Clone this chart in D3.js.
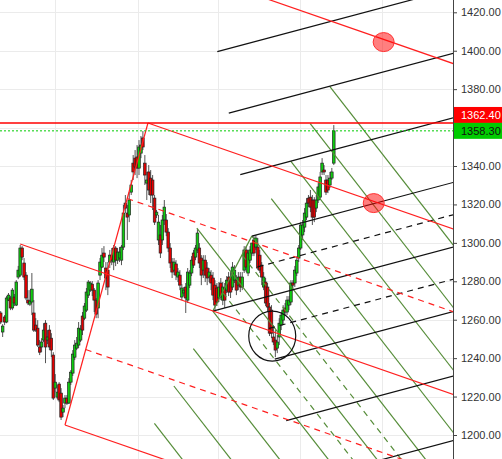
<!DOCTYPE html>
<html>
<head>
<meta charset="utf-8">
<script src="https://cdnjs.cloudflare.com/ajax/libs/d3/7.8.5/d3.min.js"></script>
<style>
  body { margin: 0; background: #fff; }
  svg { display: block; font-family: "Liberation Sans", Arial, Helvetica, sans-serif; }
</style>
</head>
<body>
<div id="chart"></div>
<script>
//Candles (one per bar, index = position)
var opens = [1263.5,1253.6,1261.4,1258.8,1270.2,1271.3,1266.1,1271.8,1267.6,1282.2,1283.2,1297.3,1289.5,1283.2,1270.2,1268.1,1269.2,1263.5,1257.2,1255.6,
  1245.8,1245.8,1249.4,1258.2,1249.4,1254.6,1250.4,1241.6,1224.4,1219.7,1226.5,1221.8,1211.9,1216.6,1219.2,1216.6,1227.5,1232.2,1240.5,1245.2,
  1246.8,1249.4,1261.9,1260.8,1265.0,1272.8,1275.4,1278.5,1275.4,1270.2,1266.1,1283.2,1287.4,1294.7,1286.9,1285.8,1290.0,1293.6,1290.0,1297.3,
  1291.0,1292.1,1291.0,1297.8,1320.7,1315.5,1314.5,1326.4,1341.5,1344.1,1344.7,1338.9,1346.7,1354.6,1341.5,1331.1,1336.9,1333.7,1332.7,1323.3,
  1314.5,1301.5,1304.1,1301.5,1311.9,1311.9,1305.6,1297.3,1290.0,1285.8,1289.0,1282.2,1283.2,1271.8,1273.9,1277.0,1270.2,1278.0,1284.3,1294.7,
  1292.6,1296.3,1297.3,1292.1,1285.8,1291.0,1286.9,1282.2,1283.2,1281.7,1278.0,1276.5,1271.3,1279.1,1270.2,1276.5,1275.4,1282.2,1282.2,1277.0,
  1280.6,1280.6,1278.0,1282.2,1277.0,1285.8,1296.3,1284.3,1291.0,1294.7,1301.5,1297.8,1297.8,1293.6,1288.4,1277.0,1279.6,1277.0,1266.6,1265.0,
  1251.0,1249.4,1245.2,1251.0,1257.2,1259.8,1266.1,1264.0,1267.6,1269.2,1279.1,1279.1,1284.3,1292.1,1297.3,1304.1,1308.2,1313.4,1323.3,1323.8,
  1322.3,1322.3,1318.1,1322.3,1323.8,1336.9,1337.9,1332.7,1332.7,1330.1,1333.7,1341.5];
var highs = [1264.5,1257.7,1262.4,1272.3,1273.9,1272.3,1276.5,1273.4,1280.6,1288.0,1298.9,1298.3,1292.1,1284.8,1275.4,1275.4,1284.3,1270.2,1260.8,1259.8,
  1249.4,1250.4,1258.2,1259.8,1254.6,1257.2,1253.0,1243.1,1231.7,1226.0,1227.5,1224.4,1215.6,1220.8,1220.8,1229.6,1233.8,1244.2,1249.4,1251.0,
  1258.8,1257.2,1264.0,1268.7,1276.5,1280.6,1280.1,1280.1,1276.5,1271.3,1280.6,1292.1,1297.3,1298.3,1290.0,1290.0,1296.3,1297.3,1298.9,1298.3,
  1297.3,1297.8,1298.9,1319.7,1324.9,1319.7,1326.4,1332.7,1345.7,1348.3,1350.9,1353.5,1355.6,1358.2,1345.7,1336.9,1340.5,1337.9,1335.3,1324.9,
  1317.1,1314.5,1309.3,1314.5,1322.3,1315.0,1307.7,1299.9,1292.1,1292.1,1291.0,1286.9,1285.8,1278.5,1277.0,1279.1,1286.9,1285.8,1293.1,1296.3,
  1298.9,1307.2,1299.9,1293.6,1293.6,1293.6,1290.0,1286.9,1285.8,1284.8,1280.6,1279.1,1279.6,1281.7,1279.6,1279.1,1282.7,1284.8,1284.8,1290.0,
  1288.4,1283.2,1284.8,1284.8,1284.8,1298.3,1298.3,1296.3,1298.3,1300.0,1303.5,1304.1,1302.5,1296.3,1290.0,1284.8,1281.7,1279.1,1268.7,1267.6,
  1257.2,1254.6,1252.0,1260.8,1264.0,1267.6,1268.7,1272.3,1272.3,1280.6,1280.6,1288.0,1293.1,1298.9,1310.8,1311.9,1318.1,1323.3,1324.9,1327.5,
  1324.9,1323.8,1324.9,1331.1,1336.9,1344.1,1340.5,1335.3,1335.3,1336.9,1339.0,1361.3];
var lows = [1257.7,1251.0,1257.2,1258.2,1269.7,1265.0,1265.0,1267.1,1267.1,1281.1,1282.2,1291.0,1280.6,1270.2,1267.6,1267.1,1262.4,1253.6,1253.6,1245.8,
  1241.6,1243.1,1248.4,1237.4,1247.3,1244.2,1240.5,1218.2,1222.3,1218.7,1217.1,1207.8,1209.3,1214.0,1215.6,1216.1,1226.0,1230.7,1239.0,1244.2,
  1245.2,1248.4,1252.0,1259.8,1264.0,1271.3,1274.4,1272.3,1264.0,1260.8,1260.8,1280.6,1286.9,1290.0,1275.4,1272.8,1286.9,1288.4,1285.8,1287.9,
  1289.0,1290.0,1288.4,1296.3,1315.5,1301.5,1310.8,1324.9,1332.7,1335.3,1333.7,1335.3,1344.1,1348.3,1330.1,1322.3,1324.9,1320.7,1317.1,1309.3,
  1312.9,1298.9,1292.1,1298.9,1309.3,1303.5,1295.2,1286.9,1281.7,1283.2,1280.6,1279.6,1275.4,1270.2,1272.3,1263.5,1268.7,1276.5,1282.7,1286.9,
  1291.0,1294.7,1286.9,1278.0,1281.7,1279.6,1278.0,1279.6,1275.4,1270.2,1265.0,1267.1,1269.2,1270.2,1267.6,1266.1,1273.9,1272.3,1271.3,1275.4,
  1279.1,1272.8,1275.4,1274.4,1275.4,1284.3,1284.8,1282.7,1289.5,1293.1,1293.1,1296.3,1285.8,1284.3,1278.0,1275.4,1267.1,1264.0,1251.5,1250.4,
  1246.8,1240.5,1242.6,1246.8,1254.6,1257.2,1261.9,1262.4,1265.0,1267.6,1275.4,1277.0,1282.7,1290.0,1296.3,1301.5,1305.6,1311.9,1318.6,1316.0,
  1309.3,1310.8,1316.0,1320.7,1322.3,1335.3,1335.3,1324.9,1325.9,1328.5,1332.7,1340.5];
var closes = [1258.8,1256.7,1258.8,1271.3,1272.8,1266.1,1275.4,1268.7,1279.6,1285.8,1297.3,1292.6,1282.2,1271.3,1268.7,1269.7,1275.9,1254.6,1254.6,1246.8,
  1243.1,1248.4,1254.6,1245.8,1251.0,1245.8,1244.2,1219.2,1227.5,1222.3,1218.2,1209.3,1214.0,1219.2,1216.6,1227.5,1232.7,1242.1,1246.8,1247.8,
  1255.6,1255.1,1254.6,1267.1,1274.4,1279.6,1279.1,1275.4,1270.2,1262.9,1279.1,1290.0,1293.6,1292.6,1281.7,1277.0,1293.6,1291.0,1297.3,1291.0,
  1295.2,1295.2,1297.8,1315.5,1318.1,1313.4,1322.3,1330.1,1336.9,1339.5,1338.9,1349.9,1350.9,1349.9,1335.3,1332.7,1327.5,1324.9,1324.9,1310.8,
  1316.0,1310.8,1294.7,1311.9,1318.6,1305.6,1297.3,1289.5,1284.8,1290.0,1283.2,1284.8,1278.0,1276.5,1275.4,1271.3,1284.8,1284.3,1291.0,1288.4,
  1297.3,1305.1,1289.5,1283.2,1291.0,1283.2,1281.7,1284.8,1279.1,1272.8,1267.6,1269.2,1277.0,1271.8,1277.0,1270.2,1280.6,1274.4,1274.4,1287.4,
  1285.8,1275.4,1282.2,1277.0,1282.2,1296.3,1287.4,1294.7,1296.3,1299.9,1294.7,1302.5,1286.9,1285.8,1282.2,1282.2,1268.7,1266.6,1253.0,1253.0,
  1248.4,1244.2,1248.4,1258.2,1262.4,1265.0,1264.0,1270.2,1270.2,1279.1,1278.0,1285.8,1291.0,1297.3,1309.3,1309.3,1315.5,1320.7,1320.7,1318.6,
  1313.4,1313.4,1322.3,1329.1,1334.3,1341.5,1336.9,1326.4,1327.5,1333.7,1336.9,1358.3];

//Price axis
var priceTicks = [1200, 1220, 1240, 1260, 1280, 1300, 1320, 1340, 1360, 1380, 1400, 1420];
var timeGrid = [27.85, 70.4, 111.5, 153.5, 195.6];   //bar positions of the vertical grid
var highLevel = 1362.4, lastClose = 1358.3;

//Pitchfork pivots [bar, price]: handle, second pivot, third pivot
var redFork = [[10, 1299.4], [33, 1205.2], [75.6, 1362.4]];
var blackFork = [[108.9, 1264.5], [128.9, 1303.5], [140.7, 1239.5]];
var greenFork = [[100.7, 1307.7], [108.9, 1264.5], [128.9, 1303.5]];
//Lines to draw, in multiples of the half-width toward the third pivot (0 = median)
var redLevels = [-1, -0.5, 0, 0.5, 1, 2];
var blackLevels = [-4, -3, -2, -1, -0.5, 0, 0.5, 1, 2, 3];
var greenLevels = [-4, -3, -2, -1, -0.5, 0, 0.5, 1, 2, 3, 4, 5];

//Markers [bar, price]
var redMarks = [[196.6, 1404.5], [191.5, 1320.7]];
var blackMark = [139.4, 1251.5];

var W = 502, H = 459, plotW = 453;

var svg = d3.select("#chart").append("svg")
  .attr("width", W)
  .attr("height", H);

var x = d3.scaleLinear().domain([0, 232.2]).range([0.7, plotW]);
var y = d3.scaleLinear().domain([1200, 1420]).range([435, 12.3]);

svg.append("clipPath").attr("id", "plot")
  .append("rect").attr("width", plotW).attr("height", H);

var plot = svg.append("g").attr("clip-path", "url(#plot)");

//Grid
plot.selectAll(".hgrid").data(priceTicks).enter().append("line")
  .attr("x1", 0).attr("x2", plotW)
  .attr("y1", d => Math.round(y(d)) + 0.5).attr("y2", d => Math.round(y(d)) + 0.5)
  .style("stroke", "#ebebeb");
plot.selectAll(".vgrid").data(timeGrid).enter().append("line")
  .attr("x1", d => Math.round(x(d)) + 0.5).attr("x2", d => Math.round(x(d)) + 0.5)
  .attr("y1", 0).attr("y2", H)
  .style("stroke", "#ebebeb");

//Candles
var bars = d3.range(closes.length);
var up = i => closes[i] >= opens[i];

plot.selectAll(".wick").data(bars).enter().append("line")
  .attr("x1", i => x(i)).attr("x2", i => x(i))
  .attr("y1", i => y(highs[i])).attr("y2", i => y(lows[i]))
  .style("stroke", "#555").style("stroke-width", 1);

plot.selectAll(".body").data(bars).enter().append("rect")
  .attr("x", i => x(i) - 1.3)
  .attr("width", 2.6)
  .attr("y", i => y(Math.max(opens[i], closes[i])))
  .attr("height", i => Math.max(1, Math.abs(y(opens[i]) - y(closes[i]))))
  .style("fill", i => up(i) ? "#0fcc0f" : "#e40000")
  .style("stroke", "#222")
  .style("stroke-width", 0.7);

//Pitchfork geometry
function forkLines(p, levels) {
  var A = p[0], B = p[1], C = p[2];
  var M = [(B[0] + C[0]) / 2, (B[1] + C[1]) / 2];
  var d = [M[0] - A[0], M[1] - A[1]];
  var h = [C[0] - M[0], C[1] - M[1]];
  return levels.map(function(k) {
    var s = k === 0 ? A : [M[0] + k * h[0], M[1] + k * h[1]];
    return {s: s, e: [s[0] + d[0] * 30, s[1] + d[1] * 30], dash: Math.abs(k % 1) === 0.5};
  });
}

function drawFork(p, levels, color, withBC) {
  var g = plot.append("g");
  g.selectAll("line").data(forkLines(p, levels)).enter().append("line")
    .attr("x1", d => x(d.s[0])).attr("y1", d => y(d.s[1]))
    .attr("x2", d => x(d.e[0])).attr("y2", d => y(d.e[1]))
    .style("stroke", color)
    .style("stroke-width", 1.2)
    .style("stroke-dasharray", d => d.dash ? "6,5" : null);
  if (withBC) {
    g.append("line")
      .attr("x1", x(p[1][0])).attr("y1", y(p[1][1]))
      .attr("x2", x(p[2][0])).attr("y2", y(p[2][1]))
      .style("stroke", color).style("stroke-width", 1.2);
  }
}

drawFork(greenFork, greenLevels, "#558c38", true);
drawFork(blackFork, blackLevels, "#111", false);
drawFork(redFork, redLevels, "#ff2020", true);

//Horizontal levels
plot.append("line")
  .attr("x1", 0).attr("x2", plotW)
  .attr("y1", y(lastClose)).attr("y2", y(lastClose))
  .style("stroke", "#00cc00").style("stroke-dasharray", "2,2");
plot.append("line")
  .attr("x1", 0).attr("x2", plotW)
  .attr("y1", y(highLevel)).attr("y2", y(highLevel))
  .style("stroke", "#ff0000").style("stroke-width", 1.5);

//Markers
plot.selectAll(".mark").data(redMarks).enter().append("ellipse")
  .attr("cx", d => x(d[0])).attr("cy", d => y(d[1]))
  .attr("rx", 10.5).attr("ry", 9.5)
  .style("fill", "rgba(255,0,0,0.5)")
  .style("stroke", "#ff3030");
plot.append("ellipse")
  .attr("cx", x(blackMark[0])).attr("cy", y(blackMark[1]))
  .attr("rx", 23.5).attr("ry", 25)
  .style("fill", "none").style("stroke", "#111").style("stroke-width", 1.2);

//Right axis (1360 label sits under the price boxes)
var axis = svg.append("g")
  .attr("transform", "translate(" + plotW + ",0)")
  .call(d3.axisRight(y).tickValues(priceTicks)
    .tickFormat(d => d === 1360 ? "" : d3.format(".2f")(d))
    .tickSize(4).tickPadding(4));
axis.select(".domain").remove();
axis.selectAll("line").style("stroke", "#444");
axis.selectAll("text").style("font-size", "11px").style("fill", "#333");
svg.append("line")
  .attr("x1", plotW + 0.5).attr("x2", plotW + 0.5)
  .attr("y1", 0).attr("y2", H)
  .style("stroke", "#444");

//Price labels
var labels = [
  {v: highLevel, top: y(highLevel) - 16, fill: "#ff0000", text: "#fff"},
  {v: lastClose, top: y(lastClose) - 8, fill: "#00cc00", text: "#111"}
];
var lab = svg.selectAll(".lab").data(labels).enter().append("g");
lab.append("rect")
  .attr("x", plotW + 1).attr("width", W - plotW - 1)
  .attr("y", d => d.top).attr("height", 16)
  .style("fill", d => d.fill);
lab.append("text")
  .attr("x", plotW + 8).attr("y", d => d.top + 12)
  .style("font-size", "11px")
  .style("fill", d => d.text)
  .text(d => d.v.toFixed(2));
</script>
</body>
</html>
